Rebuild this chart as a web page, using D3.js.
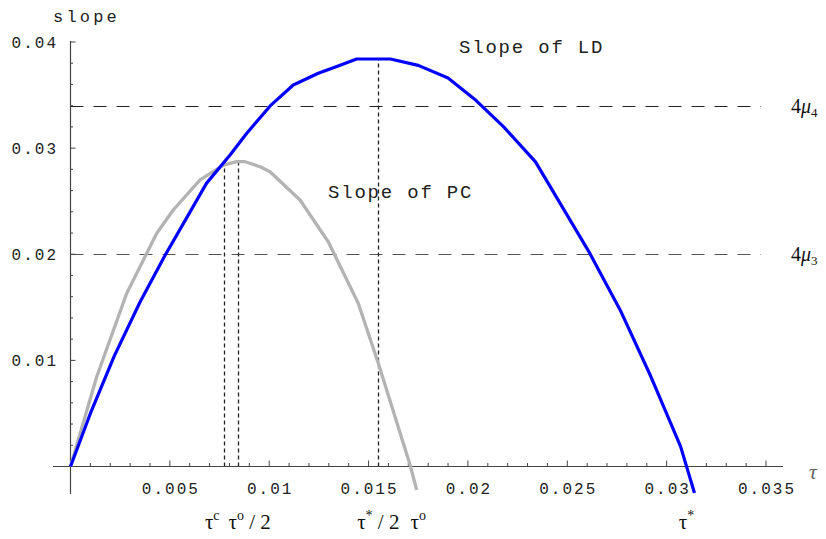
<!DOCTYPE html>
<html>
<head>
<meta charset="utf-8">
<script src="https://cdn.jsdelivr.net/npm/d3@7"></script>
<style>
  body { margin: 0; background: #fff; }
  .tick-label { font-family: "Liberation Mono", monospace; font-size: 16px; letter-spacing: 2px; fill: #222; }
  .note { font-family: "Liberation Mono", monospace; font-size: 19px; letter-spacing: 1.8px; fill: #222; }
  .sym { font-family: "Liberation Serif", serif; fill: #111; }
</style>
</head>
<body>
<div id="chart"></div>
<script>
// values
var ldTau   = [0, 0.0010, 0.0022, 0.0035, 0.00476, 0.00685, 0.00803, 0.00887, 0.01006, 0.01121, 0.01247, 0.0134, 0.0144, 0.0161, 0.0175, 0.0190, 0.0204, 0.0218, 0.0234, 0.0261, 0.0277, 0.0292, 0.0307, 0.0314];
var ldSlope = [0, 0.0050, 0.0104, 0.0155, 0.0199, 0.0267, 0.02935, 0.0314, 0.0340, 0.03595, 0.03705, 0.0377, 0.0384, 0.0384, 0.0378, 0.0366, 0.0345, 0.0320, 0.0287, 0.0202, 0.0146, 0.0085, 0.0019, -0.0025];

var pcTau   = [0, 0.00132, 0.00283, 0.00375, 0.00434, 0.00517, 0.00652, 0.00769, 0.00836, 0.00878, 0.00954, 0.01004, 0.01155, 0.01297, 0.01448, 0.01549, 0.01709, 0.01742];
var pcSlope = [0, 0.00846, 0.01632, 0.01977, 0.02198, 0.02417, 0.0270, 0.0284, 0.02872, 0.02872, 0.02825, 0.02778, 0.02511, 0.02118, 0.01538, 0.00972, 0.00014, -0.0022];

var xTicks = [0.005, 0.01, 0.015, 0.02, 0.025, 0.03, 0.035];
var xTickLabels = ["0.005", "0.01", "0.015", "0.02", "0.025", "0.03", "0.035"];
var yTicks = [0.01, 0.02, 0.03, 0.04];
var yTickLabels = ["0.01", "0.02", "0.03", "0.04"];

// 4*mu levels (horizontal dashed lines)
var muLevels = [0.034, 0.02];
var muIndex = ["4", "3"];

// vertical dotted markers: tau position and height reached
var markTau = [0.0077, 0.00845, 0.01549];
var markTop = [0.0284, 0.0289, 0.0385];

// labels under the axis
var tauNames = [["τ", "c", ""], ["τ", "o", " / 2"], ["τ", "*", " / 2"], ["τ", "o", ""], ["τ", "*", ""]];
var tauPos = [0.0077, 0.00845, 0.01549, 0.0175, 0.031];

var W = 826, H = 539;

var x = d3.scaleLinear().domain([0, 0.035]).range([70.5, 766]);
var y = d3.scaleLinear().domain([0, 0.04]).range([466.5, 42]);

var svg = d3.select("#chart").append("svg")
    .attr("width", W)
    .attr("height", H);

// horizontal dashed lines
svg.selectAll(".mu")
    .data(muLevels)
  .enter().append("line")
    .attr("class", "mu")
    .attr("x1", x(0)).attr("x2", x(0.03475))
    .attr("y1", function(d) { return Math.round(y(d)) + 0.5; })
    .attr("y2", function(d) { return Math.round(y(d)) + 0.5; })
    .attr("stroke", function(d, i) { return i == 0 ? "#222" : "#555"; })
    .attr("stroke-width", 1)
    .attr("stroke-dasharray", "13,10");

// mu labels
muLevels.forEach(function(m, i) {
  var t = svg.append("text").attr("class", "sym")
      .attr("x", 791).attr("y", y(m) + 7)
      .style("font-size", "20px");
  t.append("tspan").text("4");
  t.append("tspan").style("font-style", "italic").text("μ");
  t.append("tspan").attr("dy", 4).style("font-size", "13px").text(muIndex[i]);
});

// vertical dotted markers
svg.selectAll(".mark")
    .data(markTau)
  .enter().append("line")
    .attr("class", "mark")
    .attr("x1", function(d) { return Math.round(x(d)) + 0.5; })
    .attr("x2", function(d) { return Math.round(x(d)) + 0.5; })
    .attr("y1", y(0))
    .attr("y2", function(d, i) { return y(markTop[i]); })
    .attr("stroke", "#222")
    .attr("stroke-width", 1.3)
    .attr("stroke-dasharray", "4,3");

// axes
var axisCol = "#444";
svg.append("line")
    .attr("x1", 53).attr("x2", 783)
    .attr("y1", y(0)).attr("y2", y(0))
    .attr("stroke", axisCol).attr("stroke-width", 1.2);
svg.append("line")
    .attr("x1", x(0)).attr("x2", x(0))
    .attr("y1", 41).attr("y2", 494)
    .attr("stroke", axisCol).attr("stroke-width", 1.2);

// x ticks (minor every 0.001, major every 0.005), pointing up
var xMinor = d3.range(1, 36).map(function(i) { return i / 1000; });
svg.selectAll(".xt")
    .data(xMinor)
  .enter().append("line")
    .attr("class", "xt")
    .attr("x1", function(d) { return x(d); })
    .attr("x2", function(d) { return x(d); })
    .attr("y1", y(0))
    .attr("y2", function(d, i) { return y(0) - ((i + 1) % 5 == 0 ? 6 : 3.5); })
    .attr("stroke", axisCol).attr("stroke-width", 1);

// y ticks (minor every 0.002), pointing right
var yMinor = d3.range(1, 21).map(function(i) { return i * 0.002; });
svg.selectAll(".yt")
    .data(yMinor)
  .enter().append("line")
    .attr("class", "yt")
    .attr("x1", x(0))
    .attr("x2", function(d, i) { return x(0) + ((i + 1) % 5 == 0 ? 5 : 2.5); })
    .attr("y1", function(d) { return y(d); })
    .attr("y2", function(d) { return y(d); })
    .attr("stroke", axisCol).attr("stroke-width", 1);

svg.selectAll(".xl")
    .data(xTicks)
  .enter().append("text")
    .attr("class", "tick-label")
    .attr("x", function(d) { return x(d) + 1; })
    .attr("y", 494)
    .attr("text-anchor", "middle")
    .text(function(d, i) { return xTickLabels[i]; });

svg.selectAll(".yl")
    .data(yTicks)
  .enter().append("text")
    .attr("class", "tick-label")
    .attr("x", 58)
    .attr("y", function(d) { return y(d) + 6; })
    .attr("text-anchor", "end")
    .text(function(d, i) { return yTickLabels[i]; });

svg.append("text").attr("class", "note")
    .attr("x", 53).attr("y", 22)
    .style("font-size", "17px").style("letter-spacing", "3.2px")
    .text("slope");

svg.append("text").attr("class", "sym")
    .attr("x", 809).attr("y", 479)
    .style("font-size", "22px").style("font-style", "italic").style("fill", "#666")
    .text("τ");

// curves
var line = d3.line()
    .x(function(d) { return x(d[0]); })
    .y(function(d) { return y(d[1]); });

svg.append("path")
    .datum(d3.zip(pcTau, pcSlope))
    .attr("d", line)
    .attr("fill", "none")
    .attr("stroke", "#b3b3b3")
    .attr("stroke-width", 3.3)
    .attr("stroke-linejoin", "round");

svg.append("path")
    .datum(d3.zip(ldTau, ldSlope))
    .attr("d", line)
    .attr("fill", "none")
    .attr("stroke", "#0000ff")
    .attr("stroke-width", 3.2)
    .attr("stroke-linejoin", "round");

svg.append("text").attr("class", "note")
    .attr("x", 459).attr("y", 53)
    .text("Slope of LD");
svg.append("text").attr("class", "note")
    .attr("x", 328).attr("y", 198)
    .text("Slope of PC");

// tau labels under axis, pushed apart where they would overlap
var tl = svg.selectAll(".tau")
    .data(tauPos)
  .enter().append("text")
    .attr("class", "sym tau")
    .attr("y", 529)
    .attr("text-anchor", "middle")
    .style("font-size", "21px");
tl.each(function(d, i) {
  var t = d3.select(this);
  t.append("tspan").text(tauNames[i][0]);
  t.append("tspan").attr("dy", -9).style("font-size", "14px").text(tauNames[i][1]);
  t.append("tspan").attr("dy", 9).text(tauNames[i][2]);
});
var cx = tauPos.map(function(d) { return x(d); });
var wd = [];
tl.each(function() { wd.push(this.getComputedTextLength()); });
for (var i = 1; i < cx.length; i++) {
  var need = (wd[i - 1] + wd[i]) / 2 + 9;
  if (cx[i] - cx[i - 1] < need) {
    var push = (need - (cx[i] - cx[i - 1])) / 2;
    cx[i - 1] -= push;
    cx[i] += push;
  }
}
tl.attr("x", function(d, i) { return cx[i]; });
</script>
</body>
</html>
